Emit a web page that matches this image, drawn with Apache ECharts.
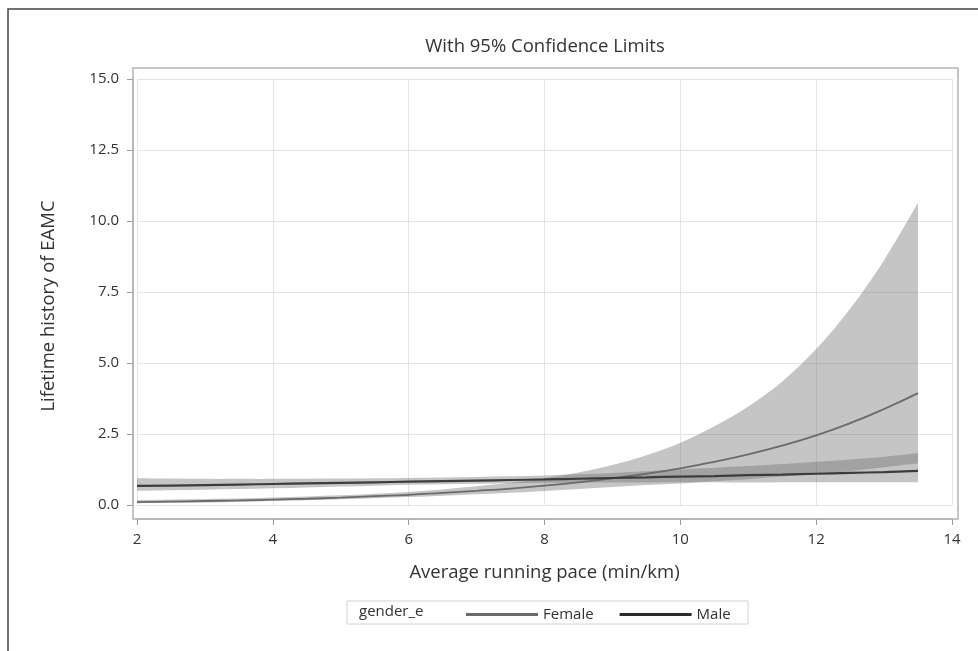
<!DOCTYPE html>
<html>
<head>
<meta charset="utf-8">
<script src="https://cdn.jsdelivr.net/npm/echarts@6/dist/echarts.min.js"></script>
<style>
  html, body { margin: 0; padding: 0; background: #fff; }
  #chart { width: 978px; height: 651px; }
</style>
</head>
<body>
<div id="chart"></div>
<script>
// running pace (min/km)
const paceX = [2, 2.5, 3, 3.5, 4, 4.5, 5, 5.5, 6, 6.5, 7, 7.5, 8, 8.5, 9, 9.5, 10, 10.5, 11, 11.5, 12, 12.5, 13, 13.5];

// female fit and 95% limits
const femaleFit = [0.10, 0.12, 0.14, 0.16, 0.19, 0.22, 0.26, 0.31, 0.36, 0.43, 0.50, 0.58, 0.68, 0.80, 0.94, 1.10, 1.29, 1.52, 1.78, 2.09, 2.45, 2.88, 3.38, 3.94];
const femaleUpper = [0.17, 0.19, 0.21, 0.23, 0.26, 0.30, 0.34, 0.40, 0.46, 0.55, 0.66, 0.78, 0.94, 1.14, 1.41, 1.75, 2.19, 2.77, 3.47, 4.35, 5.49, 6.91, 8.62, 10.64];
const femaleLower = [0.06, 0.075, 0.09, 0.11, 0.14, 0.17, 0.20, 0.24, 0.28, 0.33, 0.38, 0.43, 0.49, 0.56, 0.63, 0.70, 0.76, 0.84, 0.91, 1.00, 1.09, 1.20, 1.33, 1.46];

// male fit and 95% limits
const maleFit = [0.67, 0.685, 0.70, 0.72, 0.74, 0.76, 0.78, 0.80, 0.82, 0.84, 0.86, 0.88, 0.90, 0.925, 0.95, 0.975, 1.00, 1.02, 1.05, 1.07, 1.10, 1.13, 1.16, 1.20];
const maleUpper = [0.94, 0.93, 0.92, 0.92, 0.92, 0.925, 0.93, 0.94, 0.95, 0.97, 0.99, 1.01, 1.04, 1.08, 1.13, 1.19, 1.25, 1.31, 1.37, 1.44, 1.52, 1.60, 1.70, 1.83];
const maleLower = [0.50, 0.52, 0.54, 0.56, 0.59, 0.62, 0.65, 0.68, 0.71, 0.73, 0.75, 0.765, 0.78, 0.785, 0.79, 0.795, 0.80, 0.80, 0.79, 0.80, 0.80, 0.80, 0.80, 0.80];

const FONT = '"Open Sans", "Noto Sans", sans-serif';
const TEXT = '#333';

function zip(ys) {
  return paceX.map((x, i) => [x, ys[i]]);
}

// smooth curve through pixel points (catmull-rom -> bezier)
function curve(pts, start) {
  let d = start ? 'M' + pts[0][0] + ',' + pts[0][1] : 'L' + pts[0][0] + ',' + pts[0][1];
  for (let i = 0; i < pts.length - 1; i++) {
    const p0 = pts[Math.max(i - 1, 0)], p1 = pts[i], p2 = pts[i + 1], p3 = pts[Math.min(i + 2, pts.length - 1)];
    const c1 = [p1[0] + (p2[0] - p0[0]) / 6, p1[1] + (p2[1] - p0[1]) / 6];
    const c2 = [p2[0] - (p3[0] - p1[0]) / 6, p2[1] - (p3[1] - p1[1]) / 6];
    d += 'C' + c1[0] + ',' + c1[1] + ' ' + c2[0] + ',' + c2[1] + ' ' + p2[0] + ',' + p2[1];
  }
  return d;
}

// confidence band drawn through the axis scales
function band(name, upper, lower, fill) {
  return {
    name: name,
    type: 'custom',
    silent: true,
    z: 1,
    encode: { x: 0, y: 1 },
    data: [[paceX[0], lower[0]]],
    renderItem: function (params, api) {
      const top = paceX.map((x, i) => api.coord([x, upper[i]]));
      const bot = paceX.map((x, i) => api.coord([x, lower[i]])).reverse();
      const d = curve(top, true) + curve(bot, false) + 'Z';
      return { type: 'path', shape: { pathData: d }, style: { fill: fill } };
    }
  };
}

const chart = echarts.init(document.getElementById('chart'));
chart.setOption({
  animation: false,
  textStyle: { fontFamily: FONT },
  grid: { left: 137, right: 26, top: 79, bottom: 146 },
  xAxis: {
    type: 'value',
    min: 2, max: 14, interval: 2,
    offset: 14,
    name: 'Average running pace (min/km)',
    nameLocation: 'middle',
    nameGap: 44,
    nameTextStyle: { fontSize: 18.5, color: TEXT, fontFamily: FONT },
    axisLine: { show: true, onZero: false, lineStyle: { color: '#b4b4b4', width: 1.5 } },
    axisTick: { show: true, length: 6, lineStyle: { color: '#999' } },
    axisLabel: { fontSize: 15, color: TEXT, margin: 13, fontFamily: FONT },
    splitLine: { show: true, lineStyle: { color: '#e4e4e4' } }
  },
  yAxis: {
    type: 'value',
    min: 0, max: 15, interval: 2.5,
    offset: 4,
    axisLine: { show: true, onZero: false, lineStyle: { color: '#b4b4b4', width: 1.5 } },
    axisTick: { show: true, length: 6, lineStyle: { color: '#999' } },
    axisLabel: { fontSize: 15, color: TEXT, margin: 14, fontFamily: FONT, formatter: v => v.toFixed(1) },
    splitLine: { show: true, lineStyle: { color: '#e4e4e4' } }
  },
  legend: {
    data: ['Female', 'Male'],
    icon: 'rect',
    left: 461,
    top: 602,
    itemWidth: 72,
    itemHeight: 3,
    itemGap: 26,
    textStyle: { fontSize: 15, color: TEXT, fontFamily: FONT }
  },
  graphic: [
    { type: 'rect', silent: true, z: -10, shape: { x: 8, y: 9, width: 1000, height: 700 },
      style: { fill: 'none', stroke: '#444', lineWidth: 1.5 } },
    { type: 'rect', silent: true, z: 100, shape: { x: 133, y: 68, width: 825, height: 451 },
      style: { fill: 'none', stroke: '#b4b4b4', lineWidth: 1.5 } },
    { type: 'text', silent: true, x: 545, y: 47,
      style: { text: 'With 95% Confidence Limits', fontSize: 18.5, fill: TEXT, fontFamily: FONT,
        textAlign: 'center', textVerticalAlign: 'middle' } },
    { type: 'text', silent: true, x: 49, y: 306, rotation: Math.PI / 2,
      style: { text: 'Lifetime history of EAMC', fontSize: 18.5, fill: TEXT, fontFamily: FONT,
        textAlign: 'center', textVerticalAlign: 'middle' } },
    { type: 'rect', silent: true, shape: { x: 347, y: 601, width: 401, height: 23 },
      style: { fill: 'none', stroke: '#d2d2d2', lineWidth: 1 } },
    { type: 'text', silent: true, x: 359, y: 612,
      style: { text: 'gender_e', fontSize: 15, fill: TEXT, fontFamily: FONT, textVerticalAlign: 'middle' } }
  ],
  series: [
    band('Female CL', femaleUpper, femaleLower, 'rgba(110,110,110,0.40)'),
    band('Male CL', maleUpper, maleLower, 'rgba(110,110,110,0.40)'),
    {
      name: 'Female',
      type: 'line',
      data: zip(femaleFit),
      smooth: true,
      symbol: 'none',
      z: 3,
      lineStyle: { color: '#6a6a6a', width: 1.8 },
      itemStyle: { color: '#6a6a6a' }
    },
    {
      name: 'Male',
      type: 'line',
      data: zip(maleFit),
      smooth: true,
      symbol: 'none',
      z: 4,
      lineStyle: { color: '#3c3c3c', width: 2.2 },
      itemStyle: { color: '#2a2a2a' }
    }
  ]
});
</script>
</body>
</html>
